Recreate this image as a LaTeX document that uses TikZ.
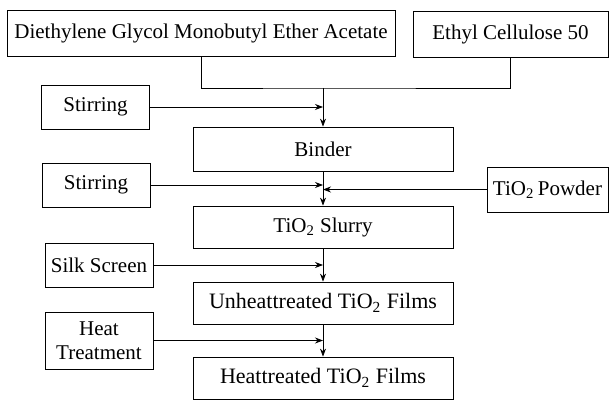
\documentclass[tikz,border=0pt]{standalone}
\usepackage{fontspec}
\setmainfont{Liberation Serif}
\usetikzlibrary{arrows.meta, positioning, calc}

\begin{document}
\begin{tikzpicture}[
    x=0.5pt, y=-0.5pt,
    box/.style={rectangle, draw, thin, text centered, inner sep=0pt, font=\fontsize{10.5}{12}\selectfont},
    step box/.style={box, minimum width=54pt, minimum height=22pt},
    main/.style={box, minimum width=130pt, minimum height=21pt},
    arrow/.style={-{Stealth[length=4pt, width=3pt]}, thin}
]
\useasboundingbox (0,0) rectangle (609,401);

% Raw materials
\node[box, minimum width=194pt, minimum height=23pt] (dgmea) at (201,33) {Diethylene Glycol Monobutyl Ether Acetate};
\node[box, minimum width=97.5pt, minimum height=23pt] (ethyl) at (510.5,34) {Ethyl Cellulose 50};

% Main process line
\node[main, minimum height=22pt] (binder) at (323,149) {Binder};
\node[main] (slurry) at (323,227) {TiO\textsubscript{2} Slurry};
\node[main, font=\fontsize{11}{13}\selectfont] (unheat) at (323,303) {Unheattreated TiO\textsubscript{2} Films};
\node[main, font=\fontsize{11}{13}\selectfont] (heated) at (323,378) {Heattreated TiO\textsubscript{2} Films};

% Process steps
\node[step box] (stir1) at (95.5,107) {Stirring};
\node[step box] (stir2) at (96,185) {Stirring};
\node[box, minimum width=60.5pt, minimum height=22.5pt] (powder) at (547.5,189.5) {TiO\textsubscript{2}\,Powder};
\node[step box] (silk) at (99,265) {Silk Screen};
\node[step box, minimum height=28.5pt, align=center] (heat) at (99,340.5) {Heat\\Treatment};

% Mixing of the raw materials
\coordinate (merge) at (323,88);
\draw (dgmea.south) |- (merge) -| (ethyl.south);
\draw[arrow] (merge) -- (binder.north);

% Arrows
\draw[arrow] (stir1.east) -- (stir1.east -| merge);
\draw[arrow] (binder) -- (slurry);
\draw[arrow] (stir2.east) -- (stir2.east -| binder.south);
\draw[arrow] (powder.west) -- (powder.west -| binder.south);
\draw[arrow] (slurry) -- (unheat);
\draw[arrow] (silk.east) -- (silk.east -| slurry.south);
\draw[arrow] (unheat) -- (heated);
\draw[arrow] (heat.east) -- (heat.east -| unheat.south);

\end{tikzpicture}
\end{document}
